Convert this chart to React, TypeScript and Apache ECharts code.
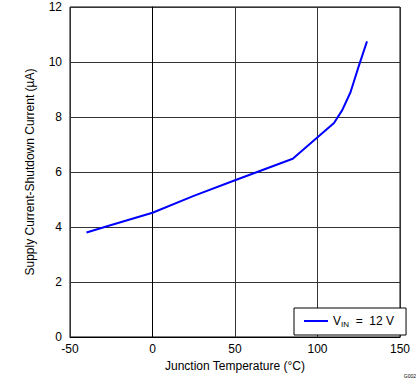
import React, { useEffect, useRef } from "react";
import * as echarts from "echarts";

const temps = [-40, -25, 0, 25, 50, 85, 110, 115, 120, 125, 130];
const currents = [3.8, 4.07, 4.52, 5.13, 5.7, 6.48, 7.78, 8.25, 8.9, 9.85, 10.75];
const seriesName = "VIN = 12 V";
const xTicks = { min: -50, max: 150, interval: 50 };
const yTicks = { min: 0, max: 12, interval: 2 };

export default function App() {
  const ref = useRef<HTMLDivElement>(null);
  useEffect(() => {
    document.body.style.margin = "0";
    if (!ref.current) return;
    const chart = echarts.init(ref.current, undefined, { renderer: "svg" });
    const font = "'Liberation Sans', Arial, sans-serif";
    chart.setOption({
      animation: false,
      backgroundColor: "#fff",
      textStyle: { fontFamily: font, color: "#000" },
      grid: { left: 70, top: 7, width: 330, height: 330, containLabel: false, show: true, borderColor: "#000", borderWidth: 1 },
      xAxis: {
        type: "value",
        min: xTicks.min,
        max: xTicks.max,
        interval: xTicks.interval,
        name: "Junction Temperature (°C)",
        nameLocation: "middle",
        nameGap: 22,
        nameTextStyle: { fontSize: 12, color: "#000", fontFamily: font, verticalAlign: "top" },
        axisLine: { show: true, lineStyle: { color: "#000", width: 1 } },
        axisTick: { show: false },
        axisLabel: { color: "#000", fontSize: 12, fontFamily: font, margin: 6 },
        splitLine: { show: true, lineStyle: { color: "#333", width: 1 } },
      },
      yAxis: {
        type: "value",
        min: yTicks.min,
        max: yTicks.max,
        interval: yTicks.interval,
        name: "Supply Current-Shutdown Current (µA)",
        nameLocation: "middle",
        nameGap: 34,
        nameTextStyle: { fontSize: 12, color: "#000", fontFamily: font },
        axisLine: { show: true, lineStyle: { color: "#000", width: 1 } },
        axisTick: { show: false },
        axisLabel: { color: "#000", fontSize: 12, fontFamily: font, margin: 8 },
        splitLine: { show: true, lineStyle: { color: "#333", width: 1 } },
      },
      legend: {
        left: 294,
        top: 308,
        width: 106,
        orient: "horizontal",
        backgroundColor: "#fff",
        borderColor: "#000",
        borderWidth: 1,
        padding: [7, 12, 7, 10],
        itemWidth: 24,
        itemHeight: 10,
        itemGap: 0,
        icon: "path://M0,4L24,4L24,6L0,6Z",
        data: [{ name: seriesName, itemStyle: { color: "#0000ff" } }],
        formatter: () => "{a|V}{b|IN}{a|  =  12 V}",
        textStyle: {
          fontFamily: font,
          color: "#000",
          rich: {
            a: { fontSize: 12, fontFamily: font, color: "#000" },
            b: { fontSize: 8, fontFamily: font, color: "#000", padding: [6, 0, 0, 0] },
          },
        },
      },
      series: [
        {
          name: seriesName,
          type: "line",
          data: temps.map((t, i) => [t, currents[i]]),
          showSymbol: false,
          symbol: "none",
          lineStyle: { color: "#0000ff", width: 2 },
          itemStyle: { color: "#0000ff" },
        },
      ],
      graphic: [
        {
          type: "text",
          right: 3,
          bottom: 4,
          style: { text: "G002", fontSize: 5, fontFamily: font, fill: "#000" },
        },
      ],
    });
    return () => chart.dispose();
  }, []);
  return <div ref={ref} style={{ width: 419, height: 382 }} />;
}
